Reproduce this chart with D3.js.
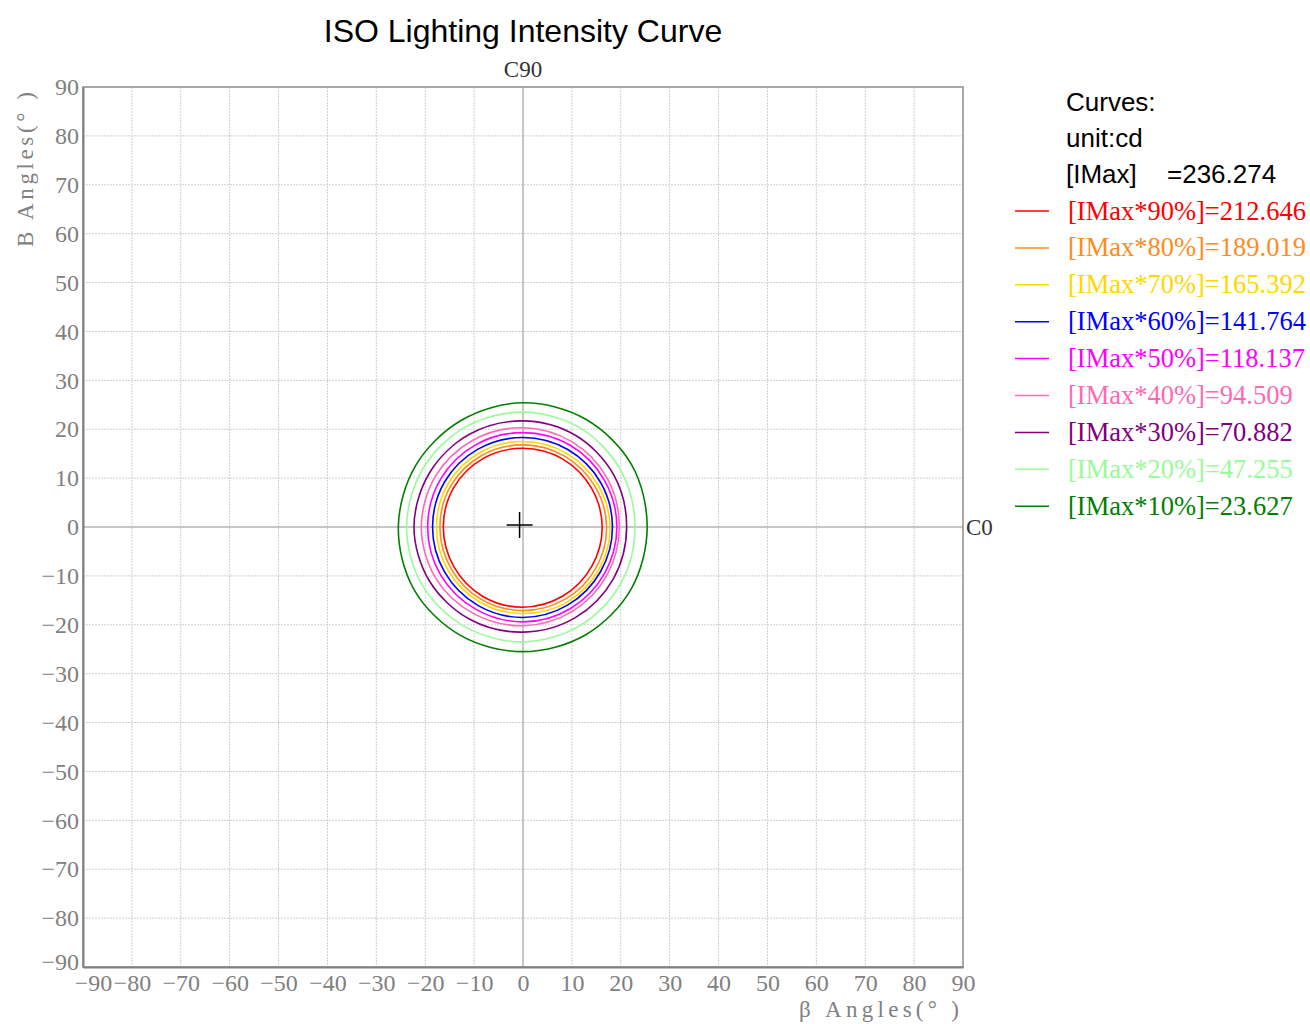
<!DOCTYPE html>
<html>
<head>
<meta charset="utf-8">
<title>ISO Lighting Intensity Curve</title>
<script src="https://cdn.jsdelivr.net/npm/d3@7"></script>
<style>
	body { margin: 0; background: #fff; }
	svg { display: block; }
</style>
</head>
<body>
<div id="chart"></div>
<script>
// --------- Data --------- //
var iMax = 236.274;
var levelPercents = [90, 80, 70, 60, 50, 40, 30, 20, 10];
var levelValues = [212.646, 189.019, 165.392, 141.764, 118.137, 94.509, 70.882, 47.255, 23.627];
var levelColors = ["#ff0000", "#ff8c1a", "#ffd700", "#0000ff", "#ff00ff", "#ff69b4", "#800080", "#98fb98", "#008000"];

// C plane angles (deg, counter clockwise from C0) where the contour radius was read
var cAngles = [0, 30, 60, 90, 120, 150, 180, 210, 240, 270, 300, 330];

// contour radius (beta angle, deg) for each level, one value per cAngles entry
var radius90 = [16.2, 16.1, 16.1, 16.1, 16.2, 16.3, 16.3, 16.3, 16.4, 16.4, 16.3, 16.2];
var radius80 = [17.1, 16.9, 16.8, 16.8, 16.9, 17.0, 17.0, 17.0, 17.1, 17.1, 17.1, 17.1];
var radius70 = [17.8, 17.6, 17.5, 17.5, 17.6, 17.7, 17.7, 17.7, 17.7, 17.7, 17.8, 17.8];
var radius60 = [18.3, 18.3, 18.3, 18.3, 18.4, 18.5, 18.5, 18.5, 18.5, 18.5, 18.4, 18.3];
var radius50 = [19.2, 19.2, 19.3, 19.3, 19.4, 19.5, 19.5, 19.5, 19.4, 19.4, 19.3, 19.2];
var radius40 = [19.7, 19.9, 20.1, 20.3, 20.5, 20.7, 20.8, 20.7, 20.4, 20.2, 20.0, 19.8];
var radius30 = [21.2, 21.4, 21.6, 21.7, 21.9, 22.1, 22.3, 22.1, 21.8, 21.5, 21.4, 21.3];
var radius20 = [22.9, 23.1, 23.4, 23.5, 23.6, 23.7, 23.8, 23.8, 23.6, 23.5, 23.3, 23.1];
var radius10 = [25.4, 25.6, 25.5, 25.4, 25.2, 25.3, 25.5, 25.7, 25.6, 25.5, 25.5, 25.5];
var levelRadii = [radius90, radius80, radius70, radius60, radius50, radius40, radius30, radius20, radius10];

// peak intensity position (center cross)
var peakPoint = [-0.7, 0.4];

var axisTicks = [-90, -80, -70, -60, -50, -40, -30, -20, -10, 0, 10, 20, 30, 40, 50, 60, 70, 80, 90];
// --------- /Data --------- //


// --------- Layout --------- //
var width = 1310, height = 1024;
var plot = {left: 83, top: 87, size: 880};
var serif = "'Liberation Serif', 'DejaVu Serif', serif";
var sans = "'Liberation Sans', Arial, sans-serif";
var tickColor = "#808080";

var svg = d3.select("#chart").append("svg")
	.attr("width", width)
	.attr("height", height);

var x = d3.scaleLinear().domain([-90, 90]).range([plot.left, plot.left + plot.size]);
var y = d3.scaleLinear().domain([-90, 90]).range([plot.top + plot.size, plot.top]);
// --------- /Layout --------- //


// --------- Grid & Axes --------- //
var grid = svg.append("g").attr("class", "grid");
var innerTicks = axisTicks.filter(function(t){ return t !== 0 && Math.abs(t) !== 90; });

grid.selectAll("line.gx").data(innerTicks)
	.enter().append("line")
	.attr("class", "gx")
	.attr("x1", function(d){ return x(d); })
	.attr("x2", function(d){ return x(d); })
	.attr("y1", y(90)).attr("y2", y(-90))
	.attr("stroke", "#cfcfcf").attr("stroke-width", 1).attr("stroke-dasharray", "2,1");

grid.selectAll("line.gy").data(innerTicks)
	.enter().append("line")
	.attr("class", "gy")
	.attr("y1", function(d){ return y(d); })
	.attr("y2", function(d){ return y(d); })
	.attr("x1", x(-90)).attr("x2", x(90))
	.attr("stroke", "#cfcfcf").attr("stroke-width", 1).attr("stroke-dasharray", "2,1");

// C0 / C90 center lines
grid.append("line")
	.attr("x1", x(0)).attr("x2", x(0)).attr("y1", y(90)).attr("y2", y(-90))
	.attr("stroke", "#b4b4b4").attr("stroke-width", 1.5);
grid.append("line")
	.attr("x1", x(-90)).attr("x2", x(90)).attr("y1", y(0)).attr("y2", y(0))
	.attr("stroke", "#b4b4b4").attr("stroke-width", 1.5);

// plot frame
svg.append("rect")
	.attr("x", x(-90)).attr("y", y(90))
	.attr("width", x(90) - x(-90)).attr("height", y(-90) - y(90))
	.attr("fill", "none").attr("stroke", "#8c8c8c").attr("stroke-width", 1.5);

var xAxis = svg.append("g")
	.attr("transform", "translate(0," + y(-90) + ")")
	.call(d3.axisBottom(x).tickValues(axisTicks).tickSize(0).tickPadding(7));

var yAxis = svg.append("g")
	.attr("transform", "translate(" + x(-90) + ",0)")
	.call(d3.axisLeft(y).tickValues(axisTicks).tickSize(0).tickPadding(4));

[xAxis, yAxis].forEach(function(ax){
	ax.select(".domain").attr("stroke", "#808080").attr("stroke-width", 2);
	ax.selectAll("text")
		.attr("fill", tickColor)
		.style("font-family", serif)
		.style("font-size", "24px");
});

// the corner labels are nudged inside, like the original
xAxis.selectAll(".tick").filter(function(d){ return d === -90; }).select("text").attr("dx", 10);
yAxis.selectAll(".tick").filter(function(d){ return d === -90; }).select("text").attr("transform", "translate(0,-5)");

svg.append("text")
	.attr("x", x(90) - 4).attr("y", 1017)
	.attr("text-anchor", "end")
	.attr("textLength", 160).attr("lengthAdjust", "spacing")
	.attr("fill", tickColor)
	.style("font-family", serif).style("font-size", "23px")
	.text("β  Angles(° )");

svg.append("text")
	.attr("transform", "translate(33,92) rotate(-90)")
	.attr("text-anchor", "end")
	.attr("textLength", 155).attr("lengthAdjust", "spacing")
	.attr("fill", tickColor)
	.style("font-family", serif).style("font-size", "23px")
	.text("B Angles(° )");

svg.append("text")
	.attr("x", x(0)).attr("y", 77)
	.attr("text-anchor", "middle")
	.attr("fill", "#333")
	.style("font-family", serif).style("font-size", "23px")
	.text("C90");

svg.append("text")
	.attr("x", x(90) + 3).attr("y", y(0) + 8)
	.attr("fill", "#333")
	.style("font-family", serif).style("font-size", "23px")
	.text("C0");

svg.append("text")
	.attr("x", x(0)).attr("y", 42)
	.attr("text-anchor", "middle")
	.attr("fill", "#000")
	.style("font-family", sans).style("font-size", "32px")
	.text("ISO Lighting Intensity Curve");
// --------- /Grid & Axes --------- //


// --------- Iso contours --------- //
var contourLine = d3.line()
	.x(function(d){ return x(d.r * Math.cos(d.a * Math.PI / 180)); })
	.y(function(d){ return y(d.r * Math.sin(d.a * Math.PI / 180)); })
	.curve(d3.curveCatmullRomClosed.alpha(0.5));

svg.append("g").attr("class", "contours")
	.selectAll("path")
	.data(levelRadii)
	.enter().append("path")
	.attr("d", function(radii){
		return contourLine(cAngles.map(function(a, i){ return {a: a, r: radii[i]}; }));
	})
	.attr("fill", "none")
	.attr("stroke", function(d, i){ return levelColors[i]; })
	.attr("stroke-width", 1.6);

// peak cross
var px = x(peakPoint[0]), py = y(peakPoint[1]);
svg.append("path")
	.attr("d", "M" + (px - 13) + "," + py + "H" + (px + 13) + "M" + px + "," + (py - 13) + "V" + (py + 13))
	.attr("stroke", "#000").attr("stroke-width", 1.5);
// --------- /Iso contours --------- //


// --------- Legend --------- //
var legend = svg.append("g").attr("class", "legend");
var headX = 1066;

legend.append("text").attr("x", headX).attr("y", 111)
	.style("font-family", sans).style("font-size", "26px").text("Curves:");
legend.append("text").attr("x", headX).attr("y", 147)
	.style("font-family", sans).style("font-size", "26px").text("unit:cd");
legend.append("text").attr("x", headX).attr("y", 183)
	.style("font-family", sans).style("font-size", "26px").text("[IMax]");
legend.append("text").attr("x", 1167).attr("y", 183)
	.style("font-family", sans).style("font-size", "26px").text("=" + iMax.toFixed(3));

var rows = legend.selectAll("g.row")
	.data(levelPercents)
	.enter().append("g")
	.attr("class", "row")
	.attr("transform", function(d, i){ return "translate(0," + (211 + i * 36.9) + ")"; });

rows.append("line")
	.attr("x1", 1015).attr("x2", 1049)
	.attr("stroke", function(d, i){ return levelColors[i]; })
	.attr("stroke-width", 1.5);

rows.append("text")
	.attr("x", 1068).attr("y", 8.5)
	.attr("fill", function(d, i){ return levelColors[i]; })
	.style("font-family", serif).style("font-size", "26.5px")
	.text(function(d, i){ return "[IMax*" + d + "%]=" + levelValues[i].toFixed(3); });
// --------- /Legend --------- //
</script>
</body>
</html>
